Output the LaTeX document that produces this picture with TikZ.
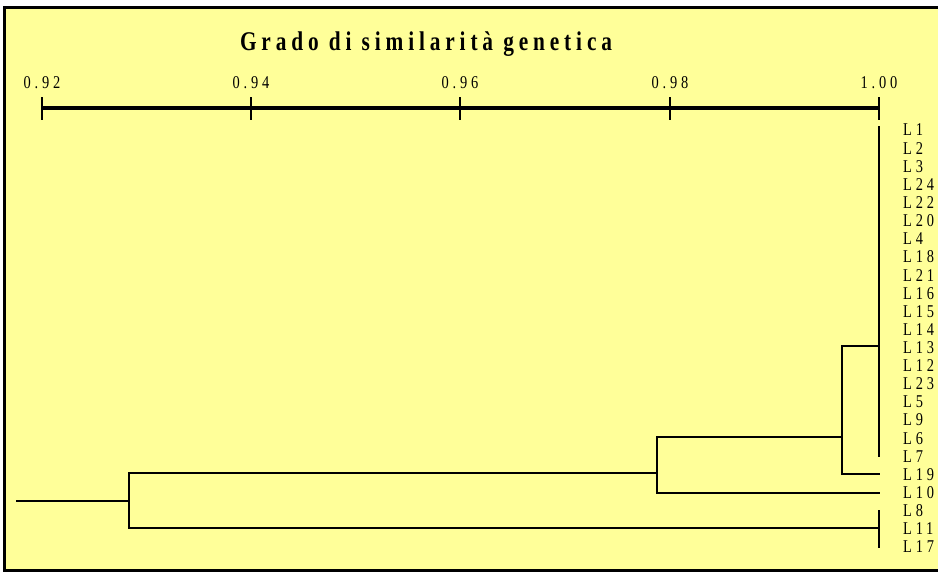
\documentclass[tikz,border=0pt]{standalone}
\usepackage{fontspec}
\setmainfont{Liberation Serif}
\newfontfamily\titlefont[LetterSpace=18,FakeStretch=0.79]{Liberation Serif Bold}
\newfontfamily\labfont[LetterSpace=21,FakeStretch=0.8]{Liberation Serif}
\definecolor{panel}{RGB}{255,255,153}
\begin{document}
\begin{tikzpicture}[x=1pt,y=-1pt,
  branch/.style={line width=2pt,line cap=rect},
  axisline/.style={line width=4pt},
  tickmark/.style={line width=1.6pt},
  leaf/.style={anchor=west,inner sep=0pt,font=\labfont\fontsize{18}{18}\selectfont},
  ticklabel/.style={inner sep=0pt,font=\labfont\fontsize{18}{18}\selectfont}]
\useasboundingbox[fill=white] (0,0) rectangle (938,573);
\begin{scope}
\clip (0,0) rectangle (938,573);
\draw[line width=3pt,fill=panel] (4,7.5) rectangle (960,570);
\end{scope}

% title
\node[inner sep=0pt,font=\titlefont\fontsize{27}{27}\selectfont] (title) at (426,44) {Grado di similarità genetica};

% similarity axis
\foreach \v/\x [count=\k] in {0.92/42,0.94/251,0.96/460,0.98/670,1.00/879}{
  \coordinate (t\k) at (\x,108);
  \draw[tickmark] (\x,97) -- (\x,120);
  \node[ticklabel] (tl\k) at (\x,83) {\v};
}
\draw[axisline] (t1) -- (t5);

% leaf labels, top to bottom
\foreach \name [count=\i from 0] in {1,2,3,24,22,20,4,18,21,16,15,14,13,12,23,5,9,6,7,19,10,8,11,17}{
  \pgfmathsetmacro{\yy}{130+\i*18.13}
  \node[leaf] (L\name) at (903,\yy) {L\name};
  \coordinate (e\name) at (879,\yy);
}

% junction points
\coordinate (top) at (879,127);
\coordinate (a1) at (842,346);  \coordinate (a2) at (879,346);
\coordinate (b1) at (842,437);  \coordinate (b2) at (657,437);
\coordinate (c1) at (657,473);  \coordinate (c2) at (129,473);
\coordinate (d1) at (129,528);  \coordinate (d2) at (879,528);
\coordinate (r1) at (129,501);  \coordinate (root) at (17,501);

% dendrogram
\draw[branch] (top) -- (e7);
\draw[branch] (a2) -- (a1) -- (a1 |- e19) -- (e19);
\draw[branch] (b1) -- (b2) -- (b2 |- e10) -- (e10);
\draw[branch] (c1) -- (c2) -- (d1) -- (d2);
\draw[branch] (e8) -- (e17);
\draw[branch] (root) -- (r1);
\end{tikzpicture}
\end{document}
